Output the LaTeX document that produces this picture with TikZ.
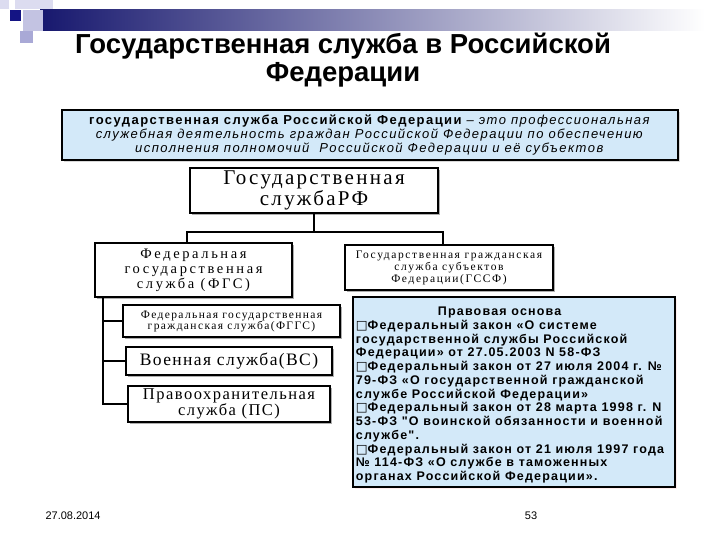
\documentclass[tikz,border=0pt]{standalone}
\usepackage{fontspec}
\setmainfont{Liberation Serif}
\newfontfamily\arialf{Liberation Sans}
\newfontfamily\dejavu{DejaVu Sans}
\usetikzlibrary{calc,shadows}
\newcommand\lsp[1]{\addfontfeature{LetterSpace=#1}}
\newcommand\sq{{\dejavu\mdseries\fontsize{12.5}{12}\selectfont □}}
\definecolor{navy}{HTML}{17186E}
\definecolor{lav}{HTML}{A9A9D6}
\definecolor{palelav}{HTML}{DCDCF0}
\definecolor{boxblue}{HTML}{D3E9F9}
\tikzset{
  treebox/.style={draw=black, line width=2.6pt, fill=white, inner sep=0pt,
    drop shadow={shadow xshift=2pt, shadow yshift=-2pt, fill=black!45, opacity=0.7},
    align=center},
  conn/.style={draw=black, line width=1.8pt},
  infobox/.style={draw=black, line width=2.6pt, fill=boxblue, inner sep=0pt},
}
\begin{document}
\begin{tikzpicture}[x=1pt,y=-1pt]
\useasboundingbox (0,0) rectangle (720,540);
% decoration
\shade[left color=navy, right color=white] (40,10) rectangle (705,31);
\fill[palelav] (0,0) rectangle (9,9);
\fill[palelav] (15,0) rectangle (53,9);
\fill[lav!70] (23,10) rectangle (43,31);
\fill[lav] (20,31) rectangle (33,43);
\fill[navy!85!blue] (10,10) rectangle (21,21);
% title
\node[font={\arialf\bfseries\fontsize{27.5}{29}\selectfont}] (t1) at (343,46) {Государственная служба в Российской};
\node[font={\arialf\bfseries\fontsize{27.5}{29}\selectfont}] (t2) at (343,75) {Федерации};
% definition box
\node[infobox, minimum width=616pt, minimum height=50pt,
  drop shadow={shadow xshift=2pt, shadow yshift=-2pt, fill=black!30}] (def) at (370,135) {};
\node[font={\arialf\fontsize{13}{14}\selectfont\lsp{11}}, align=center] (deft) at (370,135)
 {{\bfseries государственная служба Российской Федерации} \textit{– это профессиональная}\\
  \textit{служебная деятельность граждан Российской Федерации по обеспечению}\\
  \textit{исполнения полномочий\ \ Российской Федерации и её субъектов}};
% tree
\node[treebox, minimum width=248pt, minimum height=45pt,
  font={\fontsize{21}{17}\selectfont\lsp{11}}] (root) at (314,190.5) {Государственная\\службаРФ};
\node[treebox, minimum width=197pt, minimum height=54pt,
  font={\fontsize{14.5}{15}\selectfont\lsp{18}}] (fgs) at (193.5,270) {Федеральная\\государственная\\служба (ФГС)};
\node[treebox, minimum width=208pt, minimum height=45pt,
  font={\fontsize{11.5}{12}\selectfont\lsp{14}}] (gssf) at (449,267.5) {Государственная гражданская\\служба субъектов\\Федерации(ГССФ)};
\node[treebox, minimum width=217pt, minimum height=32pt,
  font={\fontsize{11.5}{11}\selectfont\lsp{12}}] (b1) at (231.5,321) {Федеральная государственная\\гражданская служба(ФГГС)};
\node[treebox, minimum width=206pt, minimum height=28pt,
  font={\fontsize{17.5}{15}\selectfont\lsp{8}}] (b2) at (229,361) {Военная служба(ВС)};
\node[treebox, minimum width=202pt, minimum height=36pt,
  font={\fontsize{16.5}{14.5}\selectfont\lsp{9}}] (b3) at (229,404) {Правоохранительная\\служба (ПС)};
% connectors
\coordinate (jl) at ($(fgs.north west)!0.467!(fgs.north east)$);
\coordinate (jr) at ($(gssf.north west)!0.47!(gssf.north east)$);
\draw[conn] (root.south) -- ++(0,18) coordinate (jm);
\draw[conn] (jl) |- (jm) -| (jr);
\coordinate (tr) at ($(fgs.south west)+(9,0)$);
\draw[conn] (tr) |- (b1.west);
\draw[conn] (tr) |- (b2.west);
\draw[conn] (tr) |- (b3.west);
% legal basis box
\node[infobox, minimum width=322pt, minimum height=190pt,
  drop shadow={shadow xshift=2pt, shadow yshift=-2pt, fill=red!15}] (law) at (514,392) {};
\node[anchor=north west, inner sep=0pt, align=left,
  font={\arialf\bfseries\fontsize{12.5}{13.75}\selectfont\lsp{9.5}}] (lawt) at ($(law.north west)+(4,11)$)
 {\hspace*{82pt}Правовая основа\\
  \sq Федеральный закон «О системе\\
  государственной службы Российской\\
  Федерации» от 27.05.2003 N 58-ФЗ\\
  \sq Федеральный закон от 27 июля 2004 г. №\\
  79-ФЗ «О государственной гражданской\\
  службе Российской Федерации»\\
  \sq Федеральный закон от 28 марта 1998 г. N\\
  53-ФЗ "О воинской обязанности и военной\\
  службе".\\
  \sq Федеральный закон от 21 июля 1997 года\\
  № 114-ФЗ «О службе в таможенных\\
  органах Российской Федерации».};
% footer
\node[font={\arialf\fontsize{11}{12}\selectfont}, anchor=west] (date) at (42,516) {27.08.2014};
\node[font={\arialf\fontsize{11}{12}\selectfont}] (page) at (531,516) {53};
\end{tikzpicture}
\end{document}
